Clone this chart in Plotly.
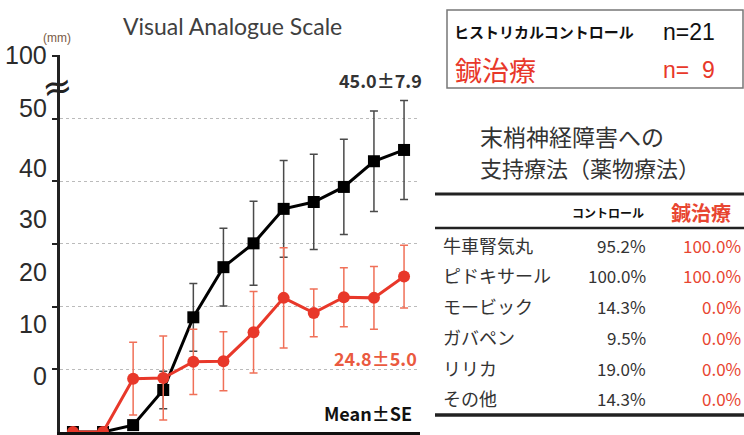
import plotly.graph_objects as go

# ---------------- data ----------------
timepoints = list(range(12))
control_mean = [0, 0, 1.1, 6.7, 18.3, 26.3, 30.1, 35.6, 36.7, 39.1, 43.2, 45.0]
control_se = [0, 0, 0.7, 3.0, 5.4, 6.2, 6.7, 7.7, 7.6, 7.6, 8.0, 7.9]
acu_mean = [0, 0, 8.5, 8.6, 11.2, 11.3, 15.9, 21.4, 19.0, 21.5, 21.4, 24.8]
acu_se = [0, 0, 5.8, 6.7, 5.2, 4.7, 6.5, 8.0, 3.8, 4.7, 5.0, 5.0]

grid_vals = [10, 20, 30, 40, 50, 60]
tick_labels = ["100", "50", "40", "30", "20", "10", "0"]

table_drugs = ["牛車腎気丸", "ピドキサール", "モービック", "ガバペン", "リリカ", "その他"]
table_control = ["95.2%", "100.0%", "14.3%", "9.5%", "19.0%", "14.3%"]
table_acu = ["100.0%", "100.0%", "0.0%", "0.0%", "0.0%", "0.0%"]

# ---------------- layout geometry ----------------
W, H = 744, 435
L, R, T, B = 60, 324, 55, 3
PW, PH = W - L - R, H - T - B


def px(x):
    return (x - L) / PW


def py(y):
    return (H - B - y) / PH


RED = "#e8382a"
RED_TXT = "#e84530"
JP = "Noto Sans CJK JP"

fig = go.Figure()
fig.add_trace(go.Scatter(
    x=timepoints, y=control_mean, mode="lines+markers",
    line=dict(color="black", width=3),
    marker=dict(symbol="square", size=12, color="black"),
    error_y=dict(type="data", array=control_se, color="#4a4a4a", thickness=1.5, width=4),
    cliponaxis=False, showlegend=False,
))
fig.add_trace(go.Scatter(
    x=timepoints, y=acu_mean, mode="lines+markers",
    line=dict(color=RED, width=3),
    marker=dict(symbol="circle", size=12, color=RED),
    error_y=dict(type="data", array=acu_se, color="#f07058", thickness=1.5, width=4),
    cliponaxis=False, showlegend=False,
))

ann = []
# y tick labels (placed where they sit in the reference)
label_pix = [55, 108, 168, 219, 272, 324, 376]
for lab, yp in zip(tick_labels, label_pix):
    ann.append(dict(text=lab, x=px(49), y=py(yp), xref="paper", yref="paper",
                    xanchor="right", yanchor="middle", showarrow=False,
                    font=dict(family="Liberation Sans Narrow, Liberation Sans, Arial", size=25, color="#2b2b2b")))
ann.append(dict(text="(mm)", x=px(57), y=py(38), xref="paper", yref="paper",
                xanchor="center", yanchor="middle", showarrow=False,
                font=dict(family="Liberation Sans", size=12, color="#7a5a44")))
ann.append(dict(text="≈", x=px(57), y=py(86), xref="paper", yref="paper",
                xanchor="center", yanchor="middle", showarrow=False, textangle=-10,
                font=dict(family="DejaVu Sans", size=36, color="#222")))
ann.append(dict(text="Visual Analogue Scale", x=px(232), y=py(26), xref="paper", yref="paper",
                xanchor="center", yanchor="middle", showarrow=False,
                font=dict(family="Lato", size=23, color="#404040")))
ann.append(dict(text="<b>45.0±7.9</b>", x=px(424), y=py(80), xref="paper", yref="paper",
                xanchor="right", yanchor="middle", showarrow=False,
                font=dict(family=JP, size=18, color="#333")))
ann.append(dict(text="<b>24.8±5.0</b>", x=px(419), y=py(358), xref="paper", yref="paper",
                xanchor="right", yanchor="middle", showarrow=False,
                font=dict(family=JP, size=18, color="#ea5a40")))
ann.append(dict(text="<b>Mean±SE</b>", x=px(414), y=py(413), xref="paper", yref="paper",
                xanchor="right", yanchor="middle", showarrow=False,
                font=dict(family=JP, size=18, color="#111")))

# legend box
ann.append(dict(text="<b>ヒストリカルコントロール</b>", x=px(452), y=py(32), xref="paper", yref="paper",
                xanchor="left", yanchor="middle", showarrow=False,
                font=dict(family=JP, size=15, color="#111")))
ann.append(dict(text="n=21", x=px(661), y=py(32), xref="paper", yref="paper",
                xanchor="left", yanchor="middle", showarrow=False,
                font=dict(family="Liberation Sans", size=23, color="#111")))
ann.append(dict(text="鍼治療", x=px(453), y=py(69), xref="paper", yref="paper",
                xanchor="left", yanchor="middle", showarrow=False,
                font=dict(family=JP, size=27, color=RED)))
ann.append(dict(text="n=  9", x=px(661), y=py(70), xref="paper", yref="paper",
                xanchor="left", yanchor="middle", showarrow=False,
                font=dict(family="Liberation Sans", size=23, color=RED)))

# table title
ann.append(dict(text="末梢神経障害への", x=px(478), y=py(136), xref="paper", yref="paper",
                xanchor="left", yanchor="middle", showarrow=False,
                font=dict(family=JP, size=23, color="#333")))
ann.append(dict(text="支持療法（薬物療法）", x=px(478), y=py(167), xref="paper", yref="paper",
                xanchor="left", yanchor="middle", showarrow=False,
                font=dict(family=JP, size=22, color="#333")))

# table header
ann.append(dict(text="<b>コントロール</b>", x=px(646), y=py(212), xref="paper", yref="paper",
                xanchor="right", yanchor="middle", showarrow=False,
                font=dict(family=JP, size=12, color="#111")))
ann.append(dict(text="<b>鍼治療</b>", x=px(733), y=py(212), xref="paper", yref="paper",
                xanchor="right", yanchor="middle", showarrow=False,
                font=dict(family=JP, size=20, color=RED_TXT)))
row_pix = [245, 275, 306, 337, 368, 398]
for name, c, a, yp in zip(table_drugs, table_control, table_acu, row_pix):
    ann.append(dict(text=name, x=px(441), y=py(yp), xref="paper", yref="paper",
                    xanchor="left", yanchor="middle", showarrow=False,
                    font=dict(family=JP, size=18, color="#333")))
    ann.append(dict(text=c, x=px(648), y=py(yp), xref="paper", yref="paper",
                    xanchor="right", yanchor="middle", showarrow=False,
                    font=dict(family=JP, size=17, color="#333")))
    ann.append(dict(text=a, x=px(743), y=py(yp), xref="paper", yref="paper",
                    xanchor="right", yanchor="middle", showarrow=False,
                    font=dict(family=JP, size=17, color=RED_TXT)))

shapes = [
    dict(type="rect", xref="paper", yref="paper", x0=px(447), x1=px(743), y0=py(88), y1=py(10),
         line=dict(color="#777", width=1.5)),
    dict(type="line", xref="paper", yref="paper", x0=px(435), x1=px(744), y0=py(194), y1=py(194),
         line=dict(color="#222", width=3)),
    dict(type="line", xref="paper", yref="paper", x0=px(435), x1=px(744), y0=py(228), y1=py(228),
         line=dict(color="#222", width=2.5)),
    dict(type="line", xref="paper", yref="paper", x0=px(435), x1=px(744), y0=py(415), y1=py(415),
         line=dict(color="#222", width=3.5)),
]

fig.update_layout(
    width=W, height=H,
    margin=dict(l=L, r=R, t=T, b=B, pad=0),
    paper_bgcolor="white", plot_bgcolor="white",
    showlegend=False,
    annotations=ann, shapes=shapes,
    xaxis=dict(range=[-0.43, 11.53], showgrid=False, zeroline=False,
               showticklabels=False, ticks="", showline=True, linecolor="#111", linewidth=3,
               fixedrange=True),
    yaxis=dict(range=[0, 60.15], tickvals=grid_vals, showgrid=True, gridcolor="#bbbbbb",
               griddash="dot", gridwidth=1, zeroline=False, showticklabels=False,
               ticks="outside", ticklen=5, tickcolor="#222", tickwidth=1.5,
               showline=True, linecolor="#222", linewidth=2.5, fixedrange=True),
)

fig.write_html("out.html", config={"displayModeBar": False},
               post_script="document.body.style.margin='0';document.body.style.overflow='hidden';")
